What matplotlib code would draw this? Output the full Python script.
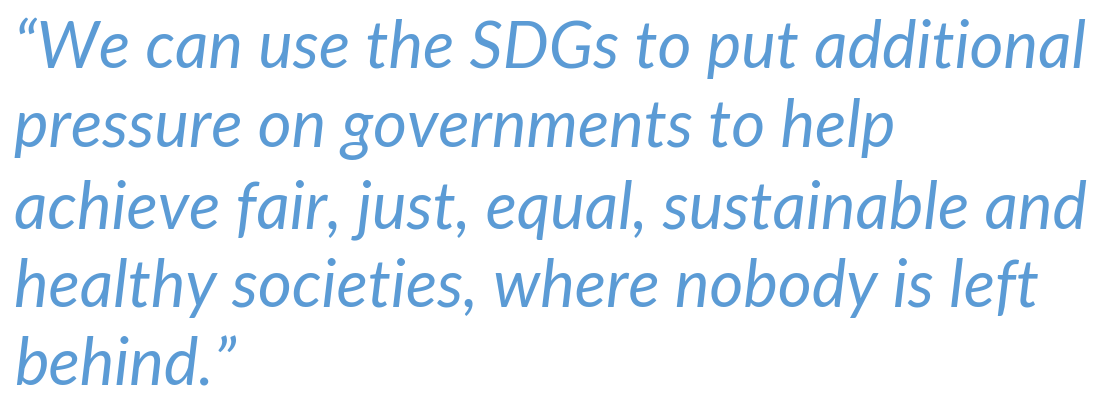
import matplotlib
matplotlib.use("Agg")

import matplotlib.pyplot as plt

# quote lines, as they wrap in the picture
lineas = [
    "\u201cWe can use the SDGs to put additional",
    "pressure on governments to help",
    "achieve fair, just, equal, sustainable and",
    "healthy societies, where nobody is left",
    "behind.\u201d",
]
baselines_px = [68, 147, 228, 307, 386]

ANCHO, ALTO = 1110, 407
COLOR = "#5B9BD5"

fig = plt.figure(figsize=(ANCHO / 100, ALTO / 100), dpi=100)
fig.patch.set_facecolor("white")

for texto, y in zip(lineas, baselines_px):
    fig.text(14 / ANCHO, 1 - y / ALTO, texto, fontsize=47, fontstyle="italic",
             family=["Lato", "DejaVu Sans"], color=COLOR, va="baseline", ha="left")

fig.savefig("out.png", dpi=100)
